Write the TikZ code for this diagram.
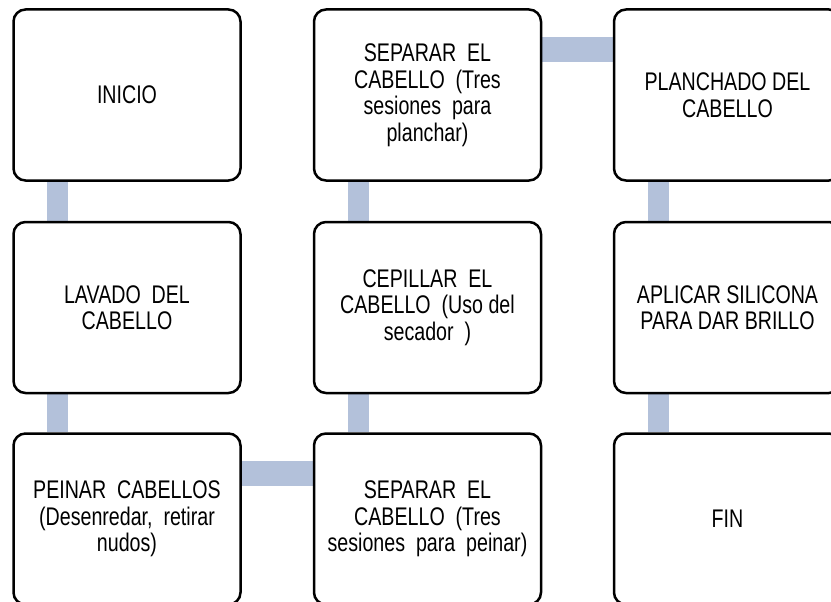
\documentclass[tikz,border=0pt]{standalone}
\usepackage{fontspec}
\setmainfont{Liberation Sans}[FakeStretch=0.77]
\usetikzlibrary{calc,backgrounds}
\definecolor{connc}{RGB}{179,193,218}
\tikzset{
  stepbox/.style={draw=black, line width=2.5pt, rounded corners=12pt, fill=white,
    minimum width=227pt, minimum height=171pt, inner sep=0pt, align=center,
    font=\fontsize{25.5}{26.5}\selectfont},
  vconn/.style={draw=connc, line width=21pt},
  hconn/.style={draw=connc, line width=25pt}
}
\begin{document}
\begin{tikzpicture}[x=1pt,y=-1pt]
\useasboundingbox (0,0) rectangle (831,602);
\clip (0,0) rectangle (831,602);
% nodes
\node[stepbox] (inicio) at (127,95) {INICIO};
\node[stepbox] (lavado) at (127,307.5) {LAVADO\ \ DEL\\CABELLO};
\node[stepbox] (peinar) at (127,519) {PEINAR\ \ CABELLOS\\(Desenredar,\ \ retirar\\nudos)};
\node[stepbox] (sep2) at (427.5,519) {SEPARAR\ \ EL\\CABELLO\ \ (Tres\\sesiones\ \ para\ \ peinar)};
\node[stepbox] (cepillar) at (427.5,307.5) {CEPILLAR\ \ EL\\CABELLO\ \ (Uso del\\secador\ \ )};
\node[stepbox] (sep1) at (427.5,95) {SEPARAR\ \ EL\\CABELLO\ \ (Tres\\sesiones\ \ para\\planchar)};
\node[stepbox] (planchado) at (727.5,95) {PLANCHADO DEL\\CABELLO};
\node[stepbox] (aplicar) at (727.5,307.5) {APLICAR SILICONA\\PARA DAR BRILLO};
\node[stepbox] (fin) at (727.5,519) {FIN};
% connectors (behind)
\begin{scope}[on background layer]
\draw[vconn] ($(inicio.south west)+(45.5,0)$) -- ($(lavado.north west)+(45.5,0)$);
\draw[vconn] ($(lavado.south west)+(45.5,0)$) -- ($(peinar.north west)+(45.5,0)$);
\draw[hconn] ($(peinar.north east)+(0,41)$) -- ($(sep2.north west)+(0,41)$);
\draw[vconn] ($(sep2.north west)+(45.5,0)$) -- ($(cepillar.south west)+(45.5,0)$);
\draw[vconn] ($(cepillar.north west)+(45.5,0)$) -- ($(sep1.south west)+(45.5,0)$);
\draw[hconn] ($(sep1.north east)+(0,41)$) -- ($(planchado.north west)+(0,41)$);
\draw[vconn] ($(planchado.south west)+(45.5,0)$) -- ($(aplicar.north west)+(45.5,0)$);
\draw[vconn] ($(aplicar.south west)+(45.5,0)$) -- ($(fin.north west)+(45.5,0)$);
\end{scope}
\end{tikzpicture}
\end{document}
